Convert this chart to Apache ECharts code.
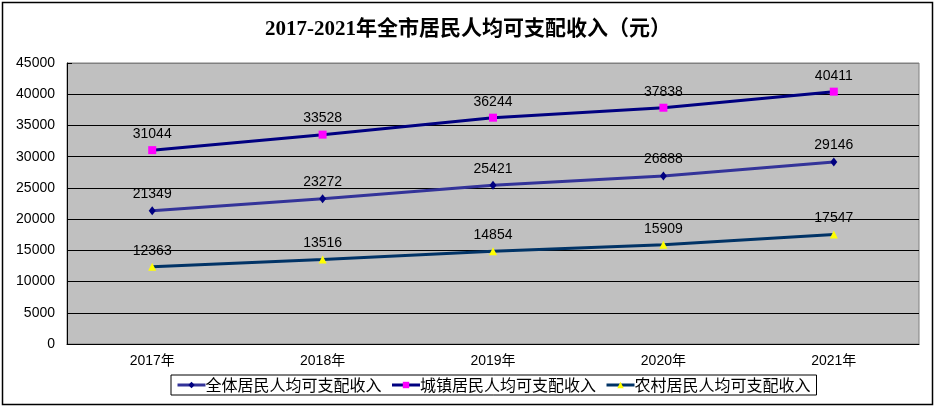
<!DOCTYPE html>
<html lang="zh">
<head>
    <meta charset="UTF-8">
    <title>全市居民人均可支配收入</title>
    <script src="https://cdn.jsdelivr.net/npm/echarts@6/dist/echarts.min.js"></script>
    <style>
        html, body { margin: 0; padding: 0; background: #fff; }
    </style>
</head>
<body>
<div id="income" style="width: 936px;height:408px;"></div>

<script type="text/javascript">
    // 数据
    var years = ['2017年', '2018年', '2019年', '2020年', '2021年'];
    var allResidents = [21349, 23272, 25421, 26888, 29146];    // 全体居民
    var urbanResidents = [31044, 33528, 36244, 37838, 40411];  // 城镇居民
    var ruralResidents = [12363, 13516, 14854, 15909, 17547];  // 农村居民
    var seriesNames = ['全体居民人均可支配收入', '城镇居民人均可支配收入', '农村居民人均可支配收入'];

    var latinFont = '"Liberation Sans", "Noto Sans CJK SC", sans-serif';

    function lineSeries(name, data, lineColor, symbol, symbolSize, markColor) {
        return {
            name: name,
            type: 'line',
            data: data,
            symbol: symbol,
            symbolSize: symbolSize,
            showAllSymbol: true,
            lineStyle: { color: lineColor, width: 3 },
            itemStyle: { color: markColor, borderWidth: 0 },
            emphasis: { disabled: true },
            label: {
                show: true,
                position: 'top',
                distance: 5,
                color: '#000',
                fontSize: 14,
                fontFamily: latinFont
            },
            animation: false
        };
    }

    var option = {
        backgroundColor: '#fff',
        title: {
            text: '2017-2021年全市居民人均可支配收入（元）',
            left: 'center',
            top: 14,
            textStyle: {
                color: '#000',
                fontSize: 21,
                fontWeight: 'bold',
                fontFamily: '"Liberation Serif", "Noto Sans CJK SC", serif'
            }
        },
        graphic: [{
            type: 'rect',
            shape: { x: 2.5, y: 2.5, width: 930, height: 402 },
            style: { fill: 'none', stroke: '#000', lineWidth: 1.5 },
            silent: true
        }],
        legend: {
            data: seriesNames,
            left: 171,
            top: 375,
            orient: 'horizontal',
            backgroundColor: '#fff',
            borderColor: '#000',
            borderWidth: 1,
            padding: [2, 6, 2, 5],
            itemGap: 9,
            itemWidth: 28,
            itemHeight: 8,
            lineStyle: { width: 3 },
            textStyle: {
                color: '#000',
                fontSize: 16,
                fontFamily: '"Noto Sans CJK SC", sans-serif',
                padding: [0, 0, 0, -5]
            },
            selectedMode: false
        },
        grid: {
            left: 67,
            right: 17,
            top: 63,
            bottom: 64,
            show: true,
            backgroundColor: '#C0C0C0',
            borderColor: '#808080',
            borderWidth: 1
        },
        xAxis: {
            type: 'category',
            data: years,
            boundaryGap: true,
            axisLine: { lineStyle: { color: '#000', width: 1 } },
            axisTick: { inside: true, length: 5, lineStyle: { color: '#000' } },
            axisLabel: { color: '#000', fontSize: 14, margin: 10, fontFamily: latinFont },
            splitLine: { show: false }
        },
        yAxis: {
            type: 'value',
            min: 0,
            max: 45000,
            interval: 5000,
            axisLine: { show: true, lineStyle: { color: '#000', width: 1 } },
            axisTick: { show: true, inside: true, length: 5, lineStyle: { color: '#000' } },
            axisLabel: {
                color: '#000',
                fontSize: 14,
                margin: 12,
                fontFamily: latinFont,
                formatter: function (v) { return String(v); }
            },
            splitLine: {
                show: true,
                lineStyle: {
                    color: ['#000', '#000', '#000', '#000', '#000', '#000', '#000', '#000', '#000', '#808080'],
                    width: 1
                }
            }
        },
        series: [
            lineSeries(seriesNames[0], allResidents, '#333399', 'diamond', [7, 9], '#000080'),
            lineSeries(seriesNames[1], urbanResidents, '#000080', 'rect', 8, '#FF00FF'),
            lineSeries(seriesNames[2], ruralResidents, '#003366', 'triangle', 8, '#FFFF00')
        ],
        animation: false
    };

    var incomeChart = echarts.init(document.getElementById('income'));
    incomeChart.setOption(option);
</script>
</body>
</html>
